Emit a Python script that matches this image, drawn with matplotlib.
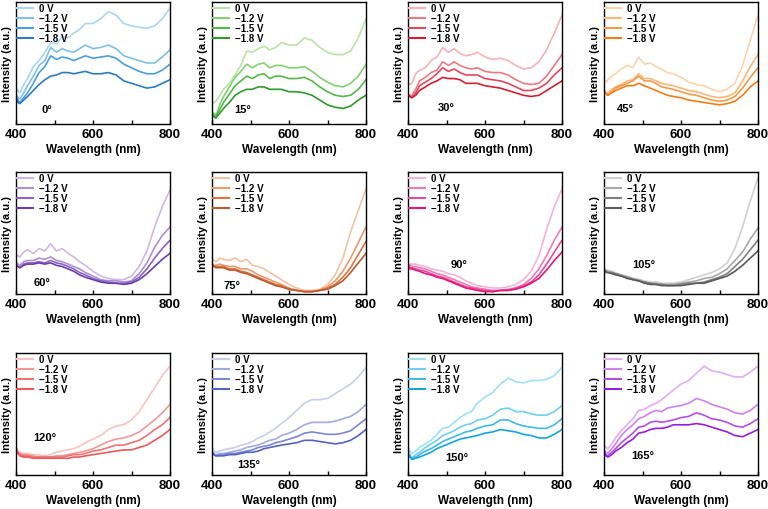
import matplotlib.pyplot as plt
from matplotlib.ticker import FixedLocator

plt.rcParams['font.family'] = ['Liberation Sans', 'DejaVu Sans']
plt.rcParams['font.weight'] = 'bold'
plt.rcParams['axes.labelweight'] = 'bold'

# wavelength grid (nm) and normalised intensity (0 = axis bottom, 1 = top)
wl = [400, 405, 410, 420, 430, 445, 460, 475, 490, 505, 520, 535, 550, 565, 580, 600, 620, 640, 660, 680, 700, 720, 740, 760, 780, 800]
voltages = ['0 V', '\u22121.2 V', '\u22121.5 V', '\u22121.8 V']
angles = ['0°', '15°', '30°', '45°', '60°', '75°', '90°', '105°', '120°', '135°', '150°', '165°']

deg0 = [
    [0.28, 0.26, 0.24, 0.31, 0.36, 0.46, 0.51, 0.58, 0.66, 0.65, 0.71, 0.70, 0.74, 0.77, 0.82, 0.82, 0.86, 0.92, 0.89, 0.82, 0.80, 0.79, 0.78, 0.80, 0.86, 0.95],
    [0.23, 0.20, 0.19, 0.24, 0.30, 0.38, 0.47, 0.51, 0.62, 0.58, 0.61, 0.59, 0.58, 0.61, 0.64, 0.61, 0.62, 0.64, 0.61, 0.55, 0.53, 0.51, 0.49, 0.49, 0.54, 0.60],
    [0.22, 0.18, 0.16, 0.20, 0.24, 0.32, 0.41, 0.46, 0.55, 0.52, 0.54, 0.53, 0.51, 0.53, 0.55, 0.53, 0.54, 0.55, 0.53, 0.48, 0.45, 0.42, 0.40, 0.40, 0.43, 0.48],
    [0.20, 0.16, 0.15, 0.18, 0.21, 0.26, 0.31, 0.35, 0.38, 0.39, 0.41, 0.41, 0.40, 0.41, 0.42, 0.40, 0.40, 0.41, 0.39, 0.34, 0.32, 0.30, 0.28, 0.29, 0.32, 0.35],
]
deg15 = [
    [0.16, 0.16, 0.17, 0.22, 0.27, 0.32, 0.39, 0.47, 0.59, 0.58, 0.61, 0.63, 0.60, 0.62, 0.66, 0.64, 0.64, 0.70, 0.68, 0.62, 0.58, 0.56, 0.56, 0.59, 0.70, 0.86],
    [0.08, 0.07, 0.05, 0.14, 0.21, 0.29, 0.37, 0.42, 0.48, 0.45, 0.48, 0.49, 0.45, 0.47, 0.47, 0.45, 0.45, 0.46, 0.42, 0.37, 0.33, 0.30, 0.29, 0.32, 0.38, 0.48],
    [0.07, 0.05, 0.04, 0.10, 0.16, 0.23, 0.30, 0.34, 0.38, 0.36, 0.39, 0.40, 0.36, 0.38, 0.38, 0.36, 0.36, 0.37, 0.34, 0.29, 0.25, 0.22, 0.21, 0.22, 0.27, 0.35],
    [0.05, 0.04, 0.03, 0.07, 0.11, 0.16, 0.22, 0.25, 0.27, 0.27, 0.29, 0.29, 0.27, 0.27, 0.27, 0.25, 0.25, 0.24, 0.22, 0.18, 0.14, 0.12, 0.11, 0.13, 0.18, 0.22],
]
deg30 = [
    [0.32, 0.31, 0.32, 0.40, 0.43, 0.45, 0.51, 0.54, 0.62, 0.58, 0.61, 0.57, 0.55, 0.56, 0.58, 0.54, 0.52, 0.53, 0.51, 0.47, 0.44, 0.45, 0.50, 0.60, 0.74, 0.89],
    [0.23, 0.22, 0.22, 0.27, 0.34, 0.37, 0.41, 0.43, 0.50, 0.47, 0.50, 0.47, 0.45, 0.44, 0.45, 0.42, 0.41, 0.41, 0.39, 0.35, 0.32, 0.31, 0.32, 0.38, 0.47, 0.56],
    [0.22, 0.21, 0.20, 0.24, 0.30, 0.33, 0.36, 0.40, 0.45, 0.42, 0.44, 0.41, 0.39, 0.39, 0.39, 0.36, 0.35, 0.34, 0.32, 0.29, 0.26, 0.26, 0.28, 0.32, 0.39, 0.45],
    [0.22, 0.21, 0.20, 0.22, 0.26, 0.29, 0.32, 0.34, 0.37, 0.36, 0.36, 0.35, 0.32, 0.32, 0.32, 0.30, 0.29, 0.28, 0.26, 0.24, 0.22, 0.21, 0.22, 0.26, 0.30, 0.34],
]
deg45 = [
    [0.34, 0.33, 0.35, 0.38, 0.40, 0.44, 0.47, 0.45, 0.54, 0.48, 0.49, 0.46, 0.44, 0.41, 0.40, 0.37, 0.33, 0.31, 0.30, 0.27, 0.25, 0.27, 0.32, 0.47, 0.68, 0.89],
    [0.27, 0.24, 0.24, 0.27, 0.29, 0.31, 0.34, 0.35, 0.40, 0.36, 0.36, 0.34, 0.32, 0.31, 0.30, 0.28, 0.26, 0.25, 0.23, 0.21, 0.20, 0.21, 0.24, 0.34, 0.46, 0.56],
    [0.26, 0.24, 0.22, 0.25, 0.28, 0.30, 0.32, 0.34, 0.38, 0.34, 0.34, 0.32, 0.29, 0.28, 0.27, 0.25, 0.23, 0.22, 0.20, 0.18, 0.17, 0.18, 0.21, 0.28, 0.37, 0.45],
    [0.24, 0.23, 0.22, 0.24, 0.26, 0.28, 0.30, 0.30, 0.32, 0.30, 0.28, 0.26, 0.24, 0.22, 0.21, 0.20, 0.18, 0.17, 0.16, 0.15, 0.14, 0.15, 0.17, 0.22, 0.29, 0.34],
]
deg60 = [
    [0.31, 0.30, 0.29, 0.33, 0.35, 0.32, 0.36, 0.34, 0.40, 0.34, 0.36, 0.32, 0.29, 0.25, 0.22, 0.17, 0.13, 0.11, 0.10, 0.10, 0.13, 0.21, 0.34, 0.54, 0.71, 0.85],
    [0.25, 0.23, 0.22, 0.25, 0.26, 0.26, 0.28, 0.27, 0.29, 0.26, 0.25, 0.23, 0.21, 0.19, 0.16, 0.13, 0.10, 0.09, 0.09, 0.08, 0.09, 0.15, 0.24, 0.37, 0.47, 0.54],
    [0.23, 0.21, 0.20, 0.23, 0.24, 0.24, 0.25, 0.24, 0.26, 0.24, 0.23, 0.21, 0.19, 0.16, 0.14, 0.11, 0.09, 0.08, 0.07, 0.07, 0.08, 0.12, 0.19, 0.28, 0.36, 0.43],
    [0.22, 0.21, 0.20, 0.22, 0.23, 0.23, 0.24, 0.23, 0.24, 0.22, 0.21, 0.19, 0.17, 0.14, 0.12, 0.10, 0.08, 0.07, 0.07, 0.06, 0.07, 0.10, 0.15, 0.21, 0.27, 0.32],
]
deg75 = [
    [0.28, 0.26, 0.25, 0.28, 0.27, 0.26, 0.28, 0.25, 0.27, 0.22, 0.21, 0.19, 0.16, 0.13, 0.10, 0.06, 0.03, 0.01, 0.01, 0.02, 0.06, 0.14, 0.28, 0.50, 0.68, 0.86],
    [0.24, 0.22, 0.22, 0.23, 0.22, 0.21, 0.21, 0.19, 0.19, 0.17, 0.14, 0.12, 0.10, 0.08, 0.06, 0.03, 0.01, 0.00, 0.00, 0.01, 0.04, 0.09, 0.17, 0.28, 0.41, 0.54],
    [0.23, 0.21, 0.21, 0.21, 0.21, 0.19, 0.19, 0.17, 0.16, 0.14, 0.12, 0.10, 0.08, 0.06, 0.05, 0.02, 0.01, 0.00, 0.00, 0.01, 0.03, 0.06, 0.12, 0.20, 0.31, 0.42],
    [0.23, 0.21, 0.20, 0.20, 0.20, 0.18, 0.18, 0.16, 0.15, 0.13, 0.11, 0.09, 0.07, 0.05, 0.04, 0.02, 0.01, 0.00, 0.00, 0.01, 0.02, 0.05, 0.09, 0.16, 0.24, 0.32],
]
deg90 = [
    [0.24, 0.23, 0.23, 0.23, 0.22, 0.21, 0.19, 0.18, 0.17, 0.15, 0.14, 0.12, 0.09, 0.07, 0.05, 0.04, 0.03, 0.03, 0.04, 0.06, 0.10, 0.17, 0.30, 0.52, 0.71, 0.86],
    [0.23, 0.22, 0.21, 0.21, 0.20, 0.19, 0.17, 0.15, 0.14, 0.12, 0.10, 0.08, 0.06, 0.04, 0.03, 0.02, 0.01, 0.01, 0.02, 0.03, 0.06, 0.11, 0.19, 0.30, 0.43, 0.54],
    [0.22, 0.20, 0.20, 0.19, 0.18, 0.17, 0.15, 0.13, 0.12, 0.10, 0.08, 0.06, 0.04, 0.03, 0.02, 0.01, 0.00, 0.01, 0.01, 0.03, 0.05, 0.08, 0.14, 0.23, 0.33, 0.43],
    [0.21, 0.19, 0.19, 0.18, 0.17, 0.15, 0.14, 0.12, 0.11, 0.09, 0.07, 0.05, 0.03, 0.02, 0.01, 0.00, 0.00, 0.01, 0.01, 0.02, 0.04, 0.07, 0.11, 0.18, 0.26, 0.33],
]
deg105 = [
    [0.20, 0.18, 0.18, 0.17, 0.16, 0.14, 0.13, 0.11, 0.10, 0.09, 0.08, 0.08, 0.07, 0.07, 0.07, 0.08, 0.10, 0.12, 0.14, 0.16, 0.19, 0.24, 0.36, 0.54, 0.76, 0.95],
    [0.19, 0.17, 0.17, 0.16, 0.15, 0.14, 0.12, 0.11, 0.10, 0.08, 0.07, 0.07, 0.06, 0.06, 0.06, 0.07, 0.08, 0.09, 0.11, 0.12, 0.15, 0.19, 0.26, 0.33, 0.44, 0.53],
    [0.19, 0.17, 0.16, 0.16, 0.15, 0.13, 0.12, 0.10, 0.09, 0.08, 0.07, 0.06, 0.06, 0.05, 0.05, 0.06, 0.07, 0.07, 0.08, 0.10, 0.12, 0.15, 0.21, 0.27, 0.35, 0.43],
    [0.18, 0.16, 0.16, 0.15, 0.14, 0.13, 0.11, 0.10, 0.09, 0.07, 0.06, 0.06, 0.05, 0.05, 0.05, 0.05, 0.06, 0.07, 0.07, 0.09, 0.11, 0.13, 0.17, 0.22, 0.28, 0.34],
]
deg120 = [
    [0.22, 0.18, 0.17, 0.16, 0.16, 0.15, 0.15, 0.14, 0.15, 0.17, 0.18, 0.19, 0.20, 0.22, 0.25, 0.28, 0.31, 0.36, 0.39, 0.40, 0.44, 0.51, 0.61, 0.71, 0.81, 0.89],
    [0.21, 0.17, 0.16, 0.15, 0.15, 0.14, 0.13, 0.13, 0.13, 0.14, 0.14, 0.15, 0.16, 0.17, 0.18, 0.20, 0.23, 0.26, 0.28, 0.29, 0.31, 0.34, 0.39, 0.44, 0.50, 0.57],
    [0.21, 0.17, 0.15, 0.14, 0.14, 0.13, 0.13, 0.13, 0.13, 0.13, 0.13, 0.14, 0.15, 0.15, 0.16, 0.18, 0.19, 0.21, 0.23, 0.23, 0.25, 0.27, 0.31, 0.36, 0.40, 0.46],
    [0.19, 0.16, 0.14, 0.13, 0.13, 0.12, 0.12, 0.12, 0.12, 0.12, 0.12, 0.12, 0.13, 0.13, 0.14, 0.15, 0.16, 0.17, 0.18, 0.19, 0.19, 0.21, 0.23, 0.27, 0.31, 0.36],
]
deg135 = [
    [0.22, 0.18, 0.17, 0.18, 0.19, 0.20, 0.21, 0.23, 0.24, 0.26, 0.29, 0.31, 0.34, 0.37, 0.41, 0.46, 0.52, 0.58, 0.61, 0.61, 0.62, 0.66, 0.70, 0.74, 0.80, 0.88],
    [0.18, 0.16, 0.15, 0.16, 0.16, 0.17, 0.18, 0.19, 0.21, 0.22, 0.23, 0.25, 0.27, 0.28, 0.31, 0.33, 0.36, 0.40, 0.42, 0.42, 0.42, 0.43, 0.45, 0.47, 0.51, 0.57],
    [0.17, 0.15, 0.14, 0.15, 0.15, 0.16, 0.16, 0.17, 0.18, 0.19, 0.21, 0.22, 0.23, 0.25, 0.26, 0.28, 0.30, 0.33, 0.34, 0.33, 0.32, 0.32, 0.33, 0.35, 0.40, 0.45],
    [0.17, 0.15, 0.14, 0.14, 0.14, 0.15, 0.15, 0.16, 0.17, 0.17, 0.18, 0.20, 0.21, 0.22, 0.23, 0.24, 0.25, 0.27, 0.27, 0.26, 0.25, 0.24, 0.25, 0.27, 0.31, 0.36],
]
deg150 = [
    [0.22, 0.18, 0.16, 0.18, 0.21, 0.24, 0.27, 0.32, 0.37, 0.38, 0.42, 0.46, 0.49, 0.51, 0.58, 0.63, 0.67, 0.74, 0.79, 0.76, 0.75, 0.77, 0.77, 0.78, 0.81, 0.88],
    [0.19, 0.15, 0.12, 0.15, 0.17, 0.21, 0.24, 0.27, 0.31, 0.33, 0.35, 0.38, 0.40, 0.41, 0.44, 0.45, 0.48, 0.53, 0.54, 0.51, 0.51, 0.49, 0.48, 0.48, 0.51, 0.56],
    [0.16, 0.14, 0.12, 0.13, 0.15, 0.18, 0.20, 0.23, 0.26, 0.28, 0.30, 0.32, 0.34, 0.35, 0.37, 0.39, 0.40, 0.44, 0.44, 0.41, 0.39, 0.38, 0.37, 0.37, 0.40, 0.45],
    [0.15, 0.13, 0.11, 0.12, 0.13, 0.15, 0.17, 0.20, 0.22, 0.24, 0.26, 0.28, 0.29, 0.30, 0.31, 0.33, 0.34, 0.36, 0.35, 0.34, 0.32, 0.31, 0.29, 0.29, 0.32, 0.36],
]
deg165 = [
    [0.23, 0.21, 0.20, 0.24, 0.29, 0.35, 0.40, 0.45, 0.52, 0.53, 0.56, 0.58, 0.61, 0.65, 0.69, 0.74, 0.77, 0.83, 0.89, 0.85, 0.84, 0.82, 0.80, 0.80, 0.84, 0.89],
    [0.19, 0.17, 0.16, 0.20, 0.24, 0.31, 0.36, 0.40, 0.45, 0.47, 0.50, 0.52, 0.51, 0.54, 0.55, 0.56, 0.58, 0.62, 0.60, 0.57, 0.55, 0.53, 0.50, 0.49, 0.52, 0.57],
    [0.18, 0.15, 0.14, 0.17, 0.20, 0.25, 0.29, 0.33, 0.38, 0.39, 0.42, 0.43, 0.42, 0.43, 0.44, 0.46, 0.47, 0.50, 0.48, 0.45, 0.44, 0.42, 0.39, 0.38, 0.41, 0.45],
    [0.16, 0.14, 0.13, 0.15, 0.18, 0.21, 0.25, 0.28, 0.33, 0.34, 0.36, 0.37, 0.37, 0.38, 0.40, 0.40, 0.40, 0.41, 0.40, 0.38, 0.36, 0.34, 0.31, 0.30, 0.33, 0.36],
]
spectra = [deg0, deg15, deg30, deg45, deg60, deg75, deg90, deg105, deg120, deg135, deg150, deg165]

palettes = [
    ['#abd5f2', '#7fc0eb', '#4aa0dd', '#2a7dc4'],
    ['#b8e3a6', '#86d071', '#55b84a', '#2f9a2c'],
    ['#f4b3b6', '#ec7a83', '#e2485a', '#d31f33'],
    ['#fbd4ae', '#f9b77a', '#f79a45', '#f37c17'],
    ['#cdb8e3', '#ad8fd6', '#8c64c2', '#6c3ea6'],
    ['#f2c2a6', '#eb9a6e', '#dd7440', '#b85b2e'],
    ['#f6b3d6', '#f07ab8', '#eb4799', '#e0177c'],
    ['#d0d0d0', '#a8a8a8', '#808080', '#5a5a5a'],
    ['#f9c3c3', '#f59797', '#f07373', '#ea5a5a'],
    ['#c9cdee', '#a2aae0', '#7c87d2', '#5563c2'],
    ['#9fe0f5', '#6fcff0', '#3fbbe9', '#14a5df'],
    ['#e3acf6', '#cf82f0', '#b54ee9', '#961ddc'],
]
label_pos = [(0.20, 0.12), (0.20, 0.12), (0.25, 0.14), (0.14, 0.13),
             (0.17, 0.10), (0.13, 0.07), (0.33, 0.25), (0.26, 0.25),
             (0.19, 0.31), (0.24, 0.09), (0.32, 0.15), (0.25, 0.16)]

fig = plt.figure(figsize=(7.68, 5.10), dpi=100)

col_left = [16, 212, 408, 604]
row_top = [3, 173, 354]
w_px, h_px = 154, 122

for k in range(12):
    r, c = divmod(k, 4)
    ax = fig.add_axes([col_left[c] / 768, 1 - (row_top[r] + h_px) / 510, w_px / 768, h_px / 510])
    for j in range(4):
        ax.plot(wl, spectra[k][j], color=palettes[k][j], lw=1.2, label=voltages[j])
    ax.set_xlim(400, 800)
    ax.set_ylim(-0.02, 1.0)
    ax.set_yticks([])
    ax.xaxis.set_major_locator(FixedLocator([400, 600, 800]))
    ax.xaxis.set_minor_locator(FixedLocator([500, 700]))
    ax.tick_params(axis='x', which='both', direction='in', length=3, width=1, labelsize=9.5, pad=3)
    for s in ax.spines.values():
        s.set_linewidth(1)
    ax.set_xlabel('Wavelength (nm)', fontsize=8.5, fontweight='bold', labelpad=2)
    ax.set_ylabel('Intensity (a.u.)', fontsize=8, fontweight='bold', labelpad=3)
    ax.text(label_pos[k][0], label_pos[k][1], angles[k], transform=ax.transAxes,
            fontsize=8, fontweight='bold', ha='center', va='center')
    leg = ax.legend(loc='upper left', frameon=False, fontsize=7, handlelength=1.6,
                    handletextpad=0.6, labelspacing=0.0, borderaxespad=0.0, borderpad=0.15)
    for h in leg.get_lines():
        h.set_linewidth(1.5)

fig.savefig('out.png', dpi=100)
